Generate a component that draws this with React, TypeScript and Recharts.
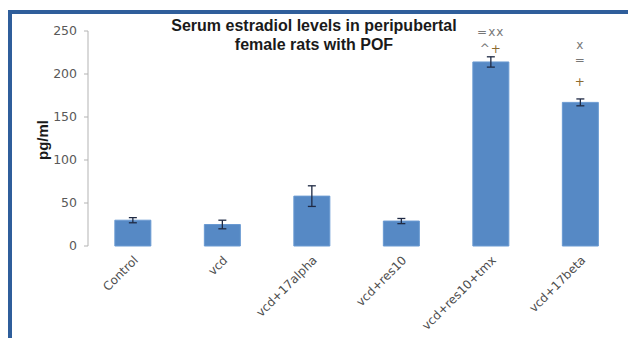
import { BarChart, Bar, XAxis, YAxis, ErrorBar, ReferenceDot } from 'recharts';

const categories = ['Control', 'vcd', 'vcd+17alpha', 'vcd+res10', 'vcd+res10+tmx', 'vcd+17beta'];
const meanValues = [30, 25, 58, 29, 214, 167];
const semValues = [3, 5, 12, 3, 6, 4];
const yTicks = [0, 50, 100, 150, 200, 250];

// significance marks above the last two bars
const markCategories = ['vcd+res10+tmx', 'vcd+res10+tmx', 'vcd+17beta', 'vcd+17beta', 'vcd+17beta'];
const markTexts = ['=xx', '^+', 'x', '=', '+'];
const markLevels = [249, 229, 234, 217, 191];

const data = categories.map((name, i) => ({ name, value: meanValues[i], err: semValues[i] }));
const edgeTicks = categories.map((_, i) => i).concat(categories.length);

const FONT = '"DejaVu Sans", Verdana, sans-serif';
const AXIS = '#b3b3b3';
const FRAME = '#2f5e9b';

function CategoryTick({ x, y, payload }: any) {
  const ax = x + 6;
  const ay = y + 7;
  return (
    <text
      x={ax}
      y={ay}
      transform={`rotate(-45, ${ax}, ${ay})`}
      textAnchor="end"
      fontSize={12}
      fontFamily={FONT}
      fill="#4d4d4d"
    >
      {payload.value}
    </text>
  );
}

function markShape(text: string) {
  return ({ cx, cy }: any) => (
    <text x={cx} y={cy} dy="0.35em" textAnchor="middle" fontSize={12} fontFamily={FONT} letterSpacing={1}>
      {text.split('').map((ch, i) => (
        <tspan key={i} fill={ch === '+' ? '#8c6a2e' : '#777777'}>
          {ch}
        </tspan>
      ))}
    </text>
  );
}

export default function App() {
  return (
    <div
      style={{
        position: 'relative',
        width: 628,
        height: 330,
        marginTop: 2,
        boxSizing: 'border-box',
        borderTop: `4px solid ${FRAME}`,
        borderLeft: `4px solid ${FRAME}`,
        background: '#fff',
      }}
    >
      <div
        style={{
          position: 'absolute',
          left: 102,
          top: 2,
          width: 400,
          textAlign: 'center',
          fontFamily: '"Liberation Sans", Arial, sans-serif',
          fontWeight: 'bold',
          fontSize: 16,
          lineHeight: '19px',
          color: '#1a1a1a',
        }}
      >
        Serum estradiol levels in peripubertal
        <br />
        female rats with POF
      </div>
      <div
        style={{
          position: 'absolute',
          left: 31 - 30,
          top: 126 - 9,
          width: 60,
          height: 18,
          lineHeight: '18px',
          textAlign: 'center',
          transform: 'rotate(-90deg)',
          fontFamily: '"Liberation Sans", Arial, sans-serif',
          fontWeight: 'bold',
          fontSize: 15,
          color: '#1a1a1a',
        }}
      >
        pg/ml
      </div>
      <BarChart
        width={624}
        height={324}
        data={data}
        margin={{ top: 17, right: 11, left: 0, bottom: 0 }}
        barCategoryGap="30%"
      >
        <XAxis
          xAxisId="edges"
          type="number"
          dataKey={() => 0}
          domain={[0, categories.length]}
          ticks={edgeTicks}
          height={0}
          tick={false}
          tickSize={5}
          axisLine={{ stroke: AXIS }}
          tickLine={{ stroke: AXIS }}
          allowDataOverflow
        />
        <XAxis
          xAxisId="cat"
          dataKey="name"
          height={92}
          axisLine={false}
          tickLine={false}
          interval={0}
          tick={<CategoryTick />}
        />
        <YAxis
          width={76}
          domain={[0, 250]}
          ticks={yTicks}
          tickSize={4}
          tickMargin={7}
          axisLine={{ stroke: AXIS }}
          tickLine={{ stroke: AXIS }}
          tick={{ fontSize: 12.5, fontFamily: FONT, fill: '#595959' }}
        />
        <Bar xAxisId="cat" dataKey="value" fill="#5689c5" stroke="#6a9ad2" strokeWidth={1} isAnimationActive={false}>
          <ErrorBar dataKey="err" width={4} stroke="#1f2a44" strokeWidth={1.3} />
        </Bar>
        {markTexts.map((t, i) => (
          <ReferenceDot
            key={i}
            xAxisId="cat"
            x={markCategories[i]}
            y={markLevels[i]}
            r={0}
            ifOverflow="visible"
            shape={markShape(t)}
          />
        ))}
      </BarChart>
    </div>
  );
}
